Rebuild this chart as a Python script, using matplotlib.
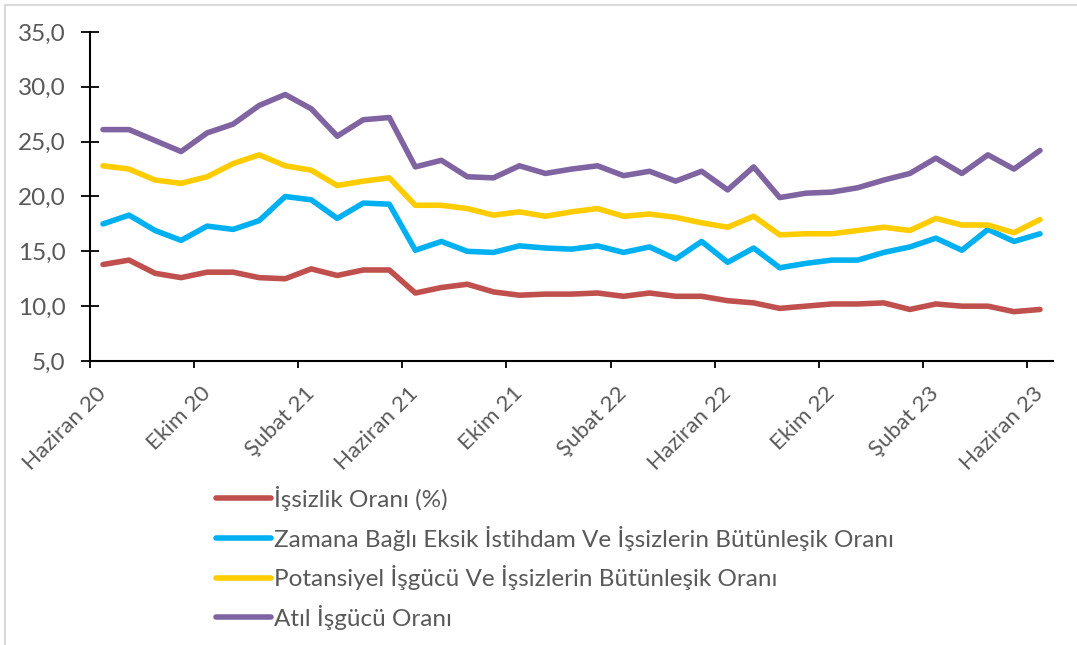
import matplotlib.pyplot as plt
from matplotlib.ticker import FixedLocator
from matplotlib.patches import Rectangle

plt.rcParams['font.family'] = ['Lato', 'DejaVu Sans']

aylar = ["Haziran 20", "Temmuz 20", "Ağustos 20", "Eylül 20", "Ekim 20", "Kasım 20",
         "Aralık 20", "Ocak 21", "Şubat 21", "Mart 21", "Nisan 21", "Mayıs 21",
         "Haziran 21", "Temmuz 21", "Ağustos 21", "Eylül 21", "Ekim 21", "Kasım 21",
         "Aralık 21", "Ocak 22", "Şubat 22", "Mart 22", "Nisan 22", "Mayıs 22",
         "Haziran 22", "Temmuz 22", "Ağustos 22", "Eylül 22", "Ekim 22", "Kasım 22",
         "Aralık 22", "Ocak 23", "Şubat 23", "Mart 23", "Nisan 23", "Mayıs 23",
         "Haziran 23"]

issizlik = [13.8, 14.2, 13.0, 12.6, 13.1, 13.1, 12.6, 12.5, 13.4, 12.8, 13.3, 13.3,
            11.2, 11.7, 12.0, 11.3, 11.0, 11.1, 11.1, 11.2, 10.9, 11.2, 10.9, 10.9,
            10.5, 10.3, 9.8, 10.0, 10.2, 10.2, 10.3, 9.7, 10.2, 10.0, 10.0, 9.5,
            9.7]

zamana_bagli = [17.5, 18.3, 16.9, 16.0, 17.3, 17.0, 17.8, 20.0, 19.7, 18.0, 19.4, 19.3,
                15.1, 15.9, 15.0, 14.9, 15.5, 15.3, 15.2, 15.5, 14.9, 15.4, 14.3, 15.9,
                14.0, 15.3, 13.5, 13.9, 14.2, 14.2, 14.9, 15.4, 16.2, 15.1, 17.0, 15.9,
                16.6]

potansiyel = [22.8, 22.5, 21.5, 21.2, 21.8, 23.0, 23.8, 22.8, 22.4, 21.0, 21.4, 21.7,
              19.2, 19.2, 18.9, 18.3, 18.6, 18.2, 18.6, 18.9, 18.2, 18.4, 18.1, 17.6,
              17.2, 18.2, 16.5, 16.6, 16.6, 16.9, 17.2, 16.9, 18.0, 17.4, 17.4, 16.7,
              17.9]

atil = [26.1, 26.1, 25.1, 24.1, 25.8, 26.6, 28.3, 29.3, 28.0, 25.5, 27.0, 27.2,
        22.7, 23.3, 21.8, 21.7, 22.8, 22.1, 22.5, 22.8, 21.9, 22.3, 21.4, 22.3,
        20.6, 22.7, 19.9, 20.3, 20.4, 20.8, 21.5, 22.1, 23.5, 22.1, 23.8, 22.5,
        24.2]

seriler = [
    ("İşsizlik Oranı (%)", issizlik, "#C0504D"),
    ("Zamana Bağlı Eksik İstihdam Ve İşsizlerin Bütünleşik Oranı", zamana_bagli, "#00B0F0"),
    ("Potansiyel İşgücü Ve İşsizlerin Bütünleşik Oranı", potansiyel, "#FFCC00"),
    ("Atıl İşgücü Oranı", atil, "#8064A2"),
]

metin_rengi = "#595959"
yazi_boyu = 17.5

fig = plt.figure(figsize=(10.77, 6.45), dpi=100)
ax = fig.add_axes([90 / 1077, 1 - 361 / 645, 963 / 1077, 329 / 645])

x = list(range(len(aylar)))
for ad, degerler, renk in seriler:
    ax.plot(x, degerler, color=renk, linewidth=4, label=ad,
            solid_capstyle='round', solid_joinstyle='round')

ax.set_xlim(-0.5, len(aylar) - 0.5)
ax.set_ylim(5, 35)
ax.set_yticks([5, 10, 15, 20, 25, 30, 35])
ax.set_yticklabels([f"{v:.1f}".replace(".", ",") for v in ax.get_yticks()])

etiket_idx = list(range(0, len(aylar), 4))
ax.set_xticks(etiket_idx)
ax.set_xticklabels([aylar[i] for i in etiket_idx], rotation=45, ha='right',
                   va='center', rotation_mode='anchor')
ax.xaxis.set_minor_locator(FixedLocator([i - 0.5 for i in etiket_idx]))

ax.tick_params(axis='x', which='major', length=0, pad=21, labelsize=16.2,
               labelcolor=metin_rengi)
ax.tick_params(axis='x', which='minor', length=5, width=1.3, direction='out')
ax.tick_params(axis='y', length=12.5, width=1.3, direction='inout', pad=11.5,
               labelsize=yazi_boyu, labelcolor=metin_rengi)

for s in ['top', 'right']:
    ax.spines[s].set_visible(False)
for s in ['left', 'bottom']:
    ax.spines[s].set_linewidth(1.5)

fig.legend(loc='upper left', bbox_to_anchor=(216 / 1077, 1 - 486 / 645),
           frameon=False, fontsize=yazi_boyu, handlelength=2.25, handletextpad=0.12,
           labelspacing=0.6, borderpad=0, borderaxespad=0, labelcolor=metin_rengi)

fig.add_artist(Rectangle((4.5 / 1077, -0.5), 2, 0.5 + 1 - 5 / 645,
                         transform=fig.transFigure, fill=False,
                         edgecolor="#D9D9D9", linewidth=1.5))

fig.savefig("out.png", dpi=100)
